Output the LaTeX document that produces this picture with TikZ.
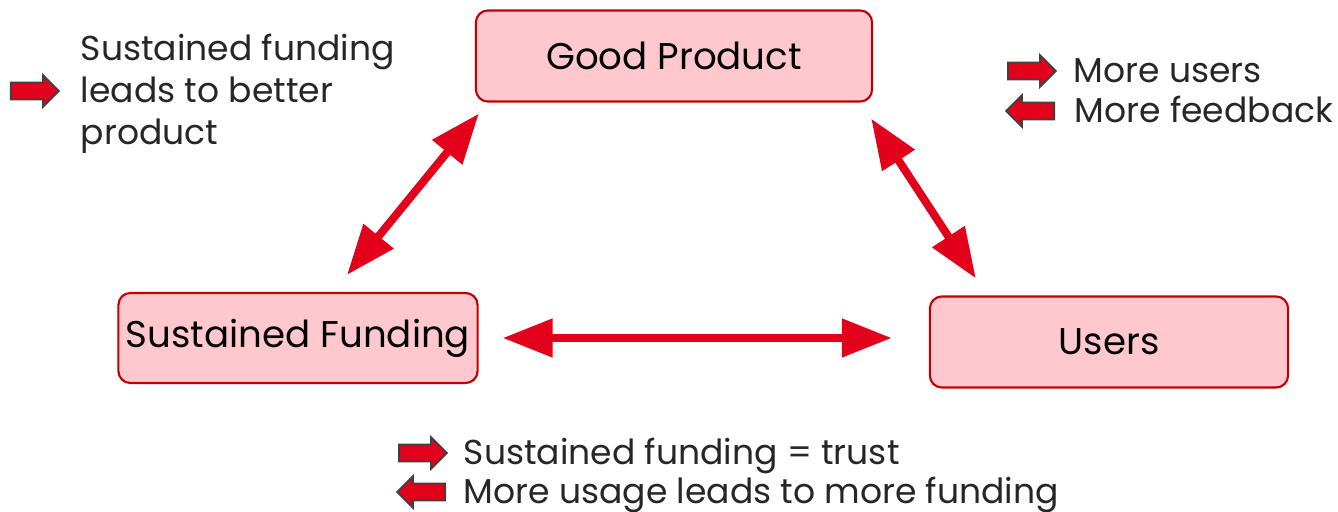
\documentclass[tikz,border=0pt]{standalone}
\usepackage{fontspec}
\setmainfont{Poppins}
\usetikzlibrary{arrows.meta,shapes.arrows,positioning}
\definecolor{boxfill}{RGB}{255,199,206}
\definecolor{boxline}{RGB}{192,0,0}
\definecolor{arrowred}{RGB}{227,0,27}
\definecolor{notegray}{RGB}{38,38,38}

\begin{document}
\begin{tikzpicture}[x=0.01cm, y=-0.01cm,
    box/.style={draw=boxline, fill=boxfill, rounded corners=0.12cm, line width=0.6pt,
        inner sep=0, font=\fontsize{10.57}{12}\selectfont},
    link/.style={arrowred, line width=0.08cm,
        {Triangle[length=0.5cm,width=0.37cm]}-{Triangle[length=0.5cm,width=0.37cm]}},
    flag/.style={single arrow, draw=black!75, fill=arrowred, line width=0.5pt,
        inner xsep=0, inner ysep=0.075cm, minimum height=0.48cm,
        single arrow head extend=0.075cm, anchor=tail},
    back/.style={flag, shape border rotate=180},
    note/.style={text=notegray, font=\fontsize{9.83}{11.95}\selectfont, anchor=west,
        inner sep=0, align=left, text depth=0.25em, text height=0.75em, yshift=-0.03cm}]
    \useasboundingbox (0,0) rectangle (1338,512);

    % the three boxes
    \node[box, minimum width=3.96cm, minimum height=0.91cm] (good) at (674,56) {Good Product};
    \node[box, minimum width=3.59cm, minimum height=0.90cm] (fund) at (298,338) {Sustained Funding};
    \node[box, minimum width=3.58cm, minimum height=0.91cm] (users) at (1109,342) {Users};

    % double arrows between them
    \draw[link] ([shift={(4,11)}]good.south west) -- ([shift={(49,-17)}]fund.north);
    \draw[link] ([shift={(-2,16)}]good.south east) -- ([shift={(47,-17)}]users.north west);
    \draw[link, shorten <=0.24cm, shorten >=0.37cm] (fund.east) -- (fund.east -| users.west);

    % notes
    \node[flag] (fwdL) at (10,91) {};
    \node[note, text height=, text depth=, right=0.2cm of fwdL] (noteL)
        {Sustained funding\\leads to better\\product};

    \node[flag] (fwdR) at (1007,71) {};
    \node[back] (backR) at (1055,111) {};
    \node[note, right=0.16cm of fwdR] (noteR1) {More users};
    \node[note, right=0.19cm of backR] (noteR2) {More feedback};

    \node[flag] (fwdB) at (398,453) {};
    \node[back] (backB) at (446,492) {};
    \node[note, right=0.15cm of fwdB] (noteB1) {Sustained funding = trust};
    \node[note, right=0.17cm of backB] (noteB2) {More usage leads to more funding};
\end{tikzpicture}
\end{document}
